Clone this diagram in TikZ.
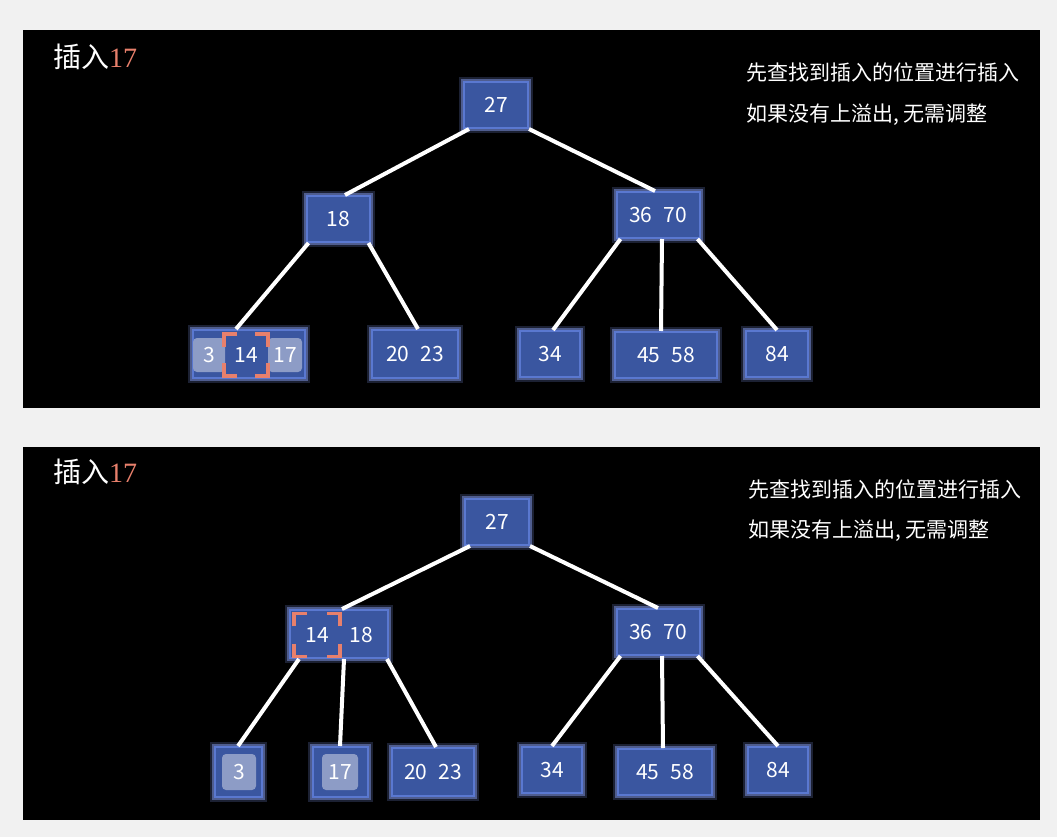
\documentclass[tikz,border=0pt]{standalone}
\usepackage{fontspec}
\setmainfont{Noto Sans CJK SC}
\newfontfamily\numserif{Liberation Serif}
\usetikzlibrary{positioning}
\definecolor{pagegray}{HTML}{F1F1F1}
\definecolor{nodeblue}{HTML}{3A56A0}
\definecolor{rimblue}{HTML}{5A78D0}
\definecolor{glowblue}{HTML}{8EA8FF}
\definecolor{cellgray}{HTML}{8D9CC6}
\definecolor{coral}{HTML}{E8806C}

\tikzset{
  key/.style={fill=nodeblue, draw=rimblue, line width=2pt,
    preaction={draw=glowblue, line width=10pt, opacity=0.2},
    preaction={draw=glowblue, line width=6pt, opacity=0.45},
    inner sep=0pt, text=white, font=\fontsize{21}{21}\selectfont},
  cell/.style={fill=cellgray, rounded corners=4pt, inner sep=0pt,
    text=white, font=\fontsize{21}{21}\selectfont},
  slot/.style={inner sep=0pt, text=white, font=\fontsize{21}{21}\selectfont},
  link/.style={white, line width=4pt},
  note/.style={text=white, anchor=west, inner sep=0pt, font=\fontsize{21}{21}\selectfont},
  title/.style={text=white, inner sep=0pt, font=\fontsize{28}{28}\selectfont},
  hl/.style={coral, line width=3.5pt}
}
\newcommand{\gap}{\hspace{11pt}}
% corner marks round the new key
\newcommand{\markcorners}[1]{
  \draw[hl] ([yshift=-13]#1.north west) -- (#1.north west) -- ([xshift=13]#1.north west);
  \draw[hl] ([yshift=-13]#1.north east) -- (#1.north east) -- ([xshift=-13]#1.north east);
  \draw[hl] ([yshift=13]#1.south west) -- (#1.south west) -- ([xshift=13]#1.south west);
  \draw[hl] ([yshift=13]#1.south east) -- (#1.south east) -- ([xshift=-13]#1.south east);
}

\begin{document}
\begin{tikzpicture}[x=1pt, y=-1pt]
  \fill[pagegray] (0,0) rectangle (1057,837);
  \useasboundingbox (0,0) rectangle (1057,837);
  \fill[black] (23,30) rectangle (1040,408);
  \fill[black] (23,447) rectangle (1040,820);

  % before: 17 goes into the leaf
  \node[title] (tA) at (95,57) {插入{\numserif\color{coral}17}};
  \node[note] (sA1) at (746,73) {先查找到插入的位置进行插入};
  \node[note] (sA2) at (746,115) {如果没有上溢出, 无需调整};

  \node[key, minimum width=64, minimum height=46] (rA) at (496,105) {27};
  \node[key, minimum width=63, minimum height=46] (lA) at (338,219) {18};
  \node[key, minimum width=83, minimum height=46] (mA) at (658,215) {36\gap70};
  \node[key, minimum width=112, minimum height=48] (leafA) at (249,354) {};
  \node[cell, minimum width=32, minimum height=34] (c3A) at (209,355) {3};
  \node[slot, minimum width=44, minimum height=42] (c14A) at (246,355) {14};
  \node[cell, minimum width=34, minimum height=34] (c17A) at (285,355) {17};
  \node[key, minimum width=86, minimum height=48] (p2023A) at (415,354) {20\gap23};
  \node[key, minimum width=60, minimum height=46] (p34A) at (550,354) {34};
  \node[key, minimum width=102, minimum height=46] (p4558A) at (666,355) {45\gap58};
  \node[key, minimum width=62, minimum height=46] (p84A) at (777,354) {84};
  \markcorners{c14A}

  \draw[link] ([xshift=6]rA.south west) -- ([xshift=7]lA.north);
  \draw[link] (rA.south east) -- ([xshift=-3]mA.north);
  \draw[link] ([xshift=3]lA.south west) -- ([xshift=-13]leafA.north);
  \draw[link] ([xshift=-2]lA.south east) -- ([xshift=3]p2023A.north);
  \draw[link] ([xshift=5]mA.south west) -- ([xshift=3]p34A.north);
  \draw[link] ([xshift=4]mA.south) -- ([xshift=-5]p4558A.north);
  \draw[link] ([xshift=-3]mA.south east) -- (p84A.north);

  % after: 14 moves up
  \node[title] (tB) at (95,472) {插入{\numserif\color{coral}17}};
  \node[note] (sB1) at (748,489) {先查找到插入的位置进行插入};
  \node[note] (sB2) at (748,531) {如果没有上溢出, 无需调整};

  \node[key, minimum width=64, minimum height=46] (rB) at (497,522) {27};
  \node[key, minimum width=98, minimum height=48] (lB) at (339,634) {};
  \node[slot, minimum width=46, minimum height=43] (c14B) at (317,635) {14};
  \node[slot] (c18B) at (361,635) {18};
  \node[key, minimum width=83, minimum height=46] (mB) at (658,632) {36\gap70};
  \node[key, minimum width=47, minimum height=50] (p3B) at (238,772) {};
  \node[cell, minimum width=34, minimum height=36] (c3B) at (239,772) {3};
  \node[key, minimum width=55, minimum height=50] (p17B) at (340,772) {};
  \node[cell, minimum width=36, minimum height=36] (c17B) at (340,772) {17};
  \node[key, minimum width=82, minimum height=48] (p2023B) at (433,772) {20\gap23};
  \node[key, minimum width=60, minimum height=46] (p34B) at (552,770) {34};
  \node[key, minimum width=94, minimum height=46] (p4558B) at (665,772) {45\gap58};
  \node[key, minimum width=60, minimum height=46] (p84B) at (778,770) {84};
  \markcorners{c14B}

  \draw[link] ([xshift=6]rB.south west) -- ([xshift=3]lB.north);
  \draw[link] (rB.south east) -- (mB.north);
  \draw[link] ([xshift=10]lB.south west) -- (p3B.north);
  \draw[link] ([xshift=5]lB.south) -- (p17B.north);
  \draw[link] ([xshift=-2]lB.south east) -- ([xshift=3]p2023B.north);
  \draw[link] ([xshift=5]mB.south west) -- (p34B.north);
  \draw[link] ([xshift=4]mB.south) -- ([xshift=-2]p4558B.north);
  \draw[link] ([xshift=-3]mB.south east) -- (p84B.north);
\end{tikzpicture}
\end{document}
